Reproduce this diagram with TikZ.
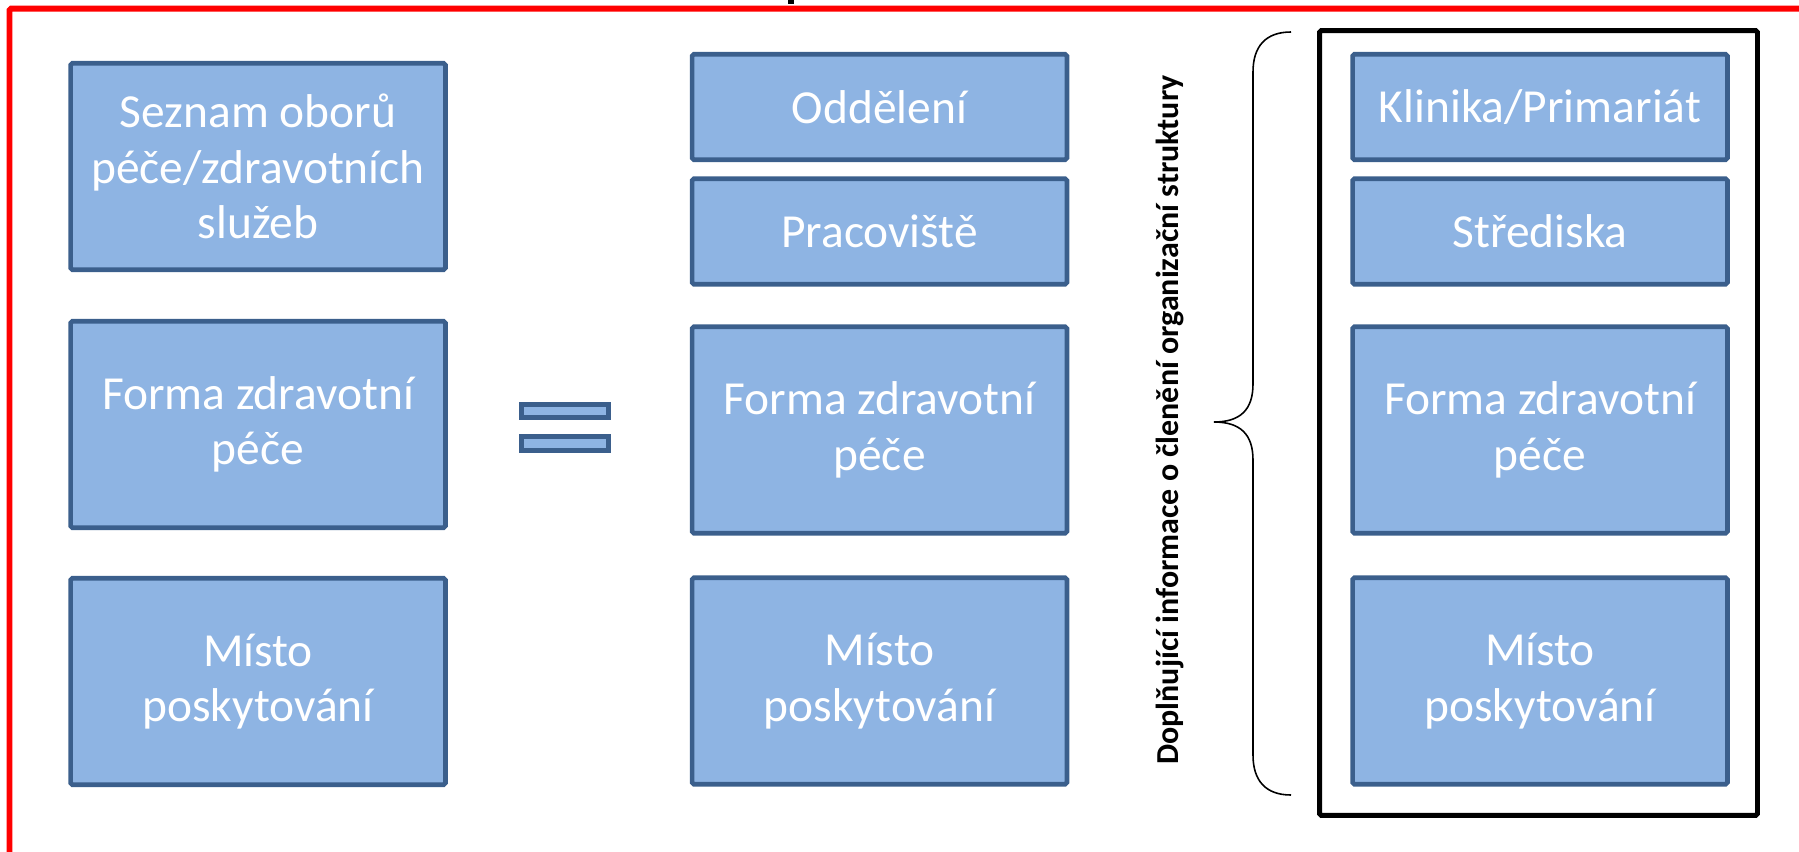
\documentclass[tikz,border=0pt]{standalone}
\usepackage{fontspec}
\setmainfont{Carlito}
\usetikzlibrary{positioning}

\definecolor{boxfill}{HTML}{8EB4E3}
\definecolor{boxline}{HTML}{3B5F8C}

\begin{document}
\begin{tikzpicture}[x=0.02cm, y=-0.02cm,
  blok/.style={draw=boxline, line width=2.6pt, fill=boxfill, rounded corners=1pt,
    text=white, align=center, inner sep=0pt, minimum width=7.5cm,
    font=\fontsize{27}{31.5}\selectfont},
  velky/.style={blok, minimum height=4.13cm},
  maly/.style={blok, minimum height=2.11cm},
  rovna/.style={draw=boxline, line width=2.6pt, fill=boxfill, inner sep=0pt,
    minimum width=1.74cm, minimum height=0.27cm}
]
\useasboundingbox (0,0) rectangle (1799,852);
\clip (0,0) rectangle (1799,852);

% red frame round everything
\draw[red, line width=3.4pt, rounded corners=1pt] (9.5,8.7) rectangle (1900,950);
\fill (788,0) rectangle (794,4);

% Column 1 (left)
\node[velky] (obory) at (258,166.5) {Seznam oborů\\péče/zdravotních\\služeb};
\node[velky] (forma1) at (258,424.5) {Forma zdravotní\\péče};
\node[velky] (misto1) at (258,681.5) {Místo\\poskytování};

% equals sign
\node[rovna] (eqtop) at (565,411) {};
\node[rovna] (eqbot) at (565,443.5) {};

% Column 2 (middle)
\node[maly] (oddeleni) at (879.5,107) {Oddělení};
\node[maly] (pracoviste) at (879.5,231.5) {Pracoviště};
\node[velky] (forma2) at (879.5,430) {Forma zdravotní\\péče};
\node[velky] (misto2) at (879.5,681) {Místo\\poskytování};

% rotated text and brace
\node[rotate=90, font=\bfseries\fontsize{18.2}{21}\selectfont] (info) at (1170,420)
  {Doplňující informace o členění organizační struktury};
\draw[line width=0.9pt] (1291,32) .. controls (1266,32) and (1253,46) .. (1253,72)
  -- (1253,384) .. controls (1253,410) and (1240,422) .. (1214,422)
  .. controls (1240,422) and (1253,434) .. (1253,460)
  -- (1253,755) .. controls (1253,781) and (1266,795) .. (1291,795);

% Column 3 (right) in black frame
\node[draw, line width=2.8pt, rounded corners=1pt, minimum width=8.76cm,
  minimum height=15.7cm] (ramec) at (1538.5,423) {};
\node[maly] (klinika) at (1540,107) {Klinika/Primariát};
\node[maly] (strediska) at (1540,231.5) {Střediska};
\node[velky] (forma3) at (1540,430) {Forma zdravotní\\péče};
\node[velky] (misto3) at (1540,681) {Místo\\poskytování};

\end{tikzpicture}
\end{document}
